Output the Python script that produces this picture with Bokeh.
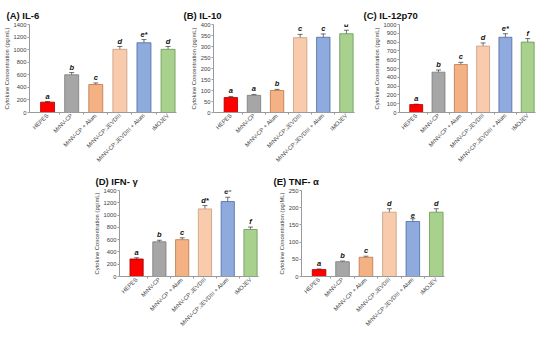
from math import pi
from bokeh.plotting import figure
from bokeh.models import Range1d, FixedTicker, Whisker, ColumnDataSource, Spacer
from bokeh.layouts import row, column
from bokeh.core.properties import value
from bokeh.embed import file_html
from bokeh.resources import INLINE

categories = ["HEPES", "MrNV-CP", "MrNV-CP + Alum", "MrNV-CP:JEVDIII",
              "MrNV-CP:JEVDIII + Alum", "IMOJEV"]
bar_colors = ["#ff0000", "#a6a6a6", "#f4b183", "#f8cbad", "#8faadc", "#a9d18e"]
bar_lines = ["#a00000", "#7a7a7a", "#b9774a", "#c99a7a", "#4a6aa8", "#6a9650"]

il6_vals = [165, 600, 445, 1005, 1110, 1005]
il6_errs = [10, 35, 25, 45, 50, 45]
il6_letters = ["a", "b", "c", "d", "e*", "d"]

il10_vals = [68, 78, 100, 340, 342, 358]
il10_errs = [5, 4, 5, 15, 15, 16]
il10_letters = ["a", "a", "b", "c", "c", "d"]

il12_vals = [90, 458, 545, 755, 855, 800]
il12_errs = [5, 25, 25, 35, 40, 40]
il12_letters = ["a", "b", "c", "d", "e*", "f"]

ifn_vals = [285, 565, 600, 1100, 1220, 765]
ifn_errs = [20, 25, 30, 55, 70, 40]
ifn_letters = ["a", "b", "c", "d*", "e*", "f"]

tnf_vals = [20, 43, 56, 187, 160, 187]
tnf_errs = [2, 2, 3, 10, 8, 10]
tnf_letters = ["a", "b", "c", "d", "e", "d"]

FONT = "Liberation Sans"


def panel(title, vals, errs, letters, ymax, step, ylabel, width, height,
          mbl, mbr, mbt, mbb, t_dx):
    xs = list(range(len(categories)))
    xr = Range1d(-0.75, 5.35)
    p = figure(width=width, height=height, x_range=xr,
               y_range=Range1d(0, ymax), output_backend="svg",
               toolbar_location=None, min_border_left=mbl,
               min_border_right=mbr, min_border_top=mbt, min_border_bottom=mbb)
    p.outline_line_color = None
    p.border_fill_color = None
    p.xgrid.visible = False
    p.ygrid.visible = False

    src = ColumnDataSource(dict(x=xs, top=vals, upper=[v + e for v, e in zip(vals, errs)],
                                lower=[v - e for v, e in zip(vals, errs)],
                                fill=bar_colors, line=bar_lines, letter=letters))
    p.vbar(x="x", top="top", width=0.58, bottom=0, fill_color="fill",
           line_color="line", line_width=0.8, source=src)
    w = Whisker(base="x", upper="upper", lower="lower", source=src,
                line_color="#333333", line_width=0.7)
    for h in (w.upper_head, w.lower_head):
        h.size = 5
        h.line_color = "#333333"
        h.line_width = 0.7
    p.add_layout(w)
    p.text(x="x", y="upper", text="letter", source=src, text_align="center",
           text_baseline="bottom", y_offset=-1, text_font=value(FONT),
           text_font_size="7.5px", text_font_style="bold italic",
           text_color="#111111")

    xa = p.xaxis[0]
    xa.ticker = FixedTicker(ticks=xs, minor_ticks=[0.5, 1.5, 2.5, 3.5, 4.5])
    xa.major_label_overrides = {i: c for i, c in enumerate(categories)}
    xa.major_label_orientation = pi / 4
    xa.major_tick_line_color = None
    xa.major_tick_out = 0
    xa.major_tick_in = 0
    xa.minor_tick_out = 2
    xa.minor_tick_in = 0
    xa.minor_tick_line_color = "#9a9a9a"
    xa.axis_line_color = "#9a9a9a"
    xa.major_label_standoff = 0

    ya = p.yaxis[0]
    ya.ticker = FixedTicker(ticks=list(range(0, ymax + 1, step)))
    ya.minor_tick_line_color = None
    ya.major_tick_out = 2
    ya.major_tick_in = 0
    ya.major_tick_line_color = "#9a9a9a"
    ya.axis_line_color = "#9a9a9a"
    ya.major_label_standoff = 1
    ya.axis_label = ylabel
    ya.axis_label_standoff = 1
    ya.axis_label_text_font = FONT
    ya.axis_label_text_font_size = "5.8px"
    ya.axis_label_text_font_style = "normal"
    ya.axis_label_text_color = "#404040"

    for ax in (xa, ya):
        ax.major_label_text_font = FONT
        ax.major_label_text_font_size = "5.8px"
        ax.major_label_text_color = "#404040"

    p.title.text = title
    p.title.text_font = FONT
    p.title.text_font_size = "9.5px"
    p.title.text_font_style = "bold"
    p.title.text_color = "#111111"
    p.title.align = "left"
    p.title.offset = t_dx
    p.title.standoff = 8
    return p


YL = "Cytokine Concentration (pg/mL)"
pA = panel("(A) IL-6", il6_vals, il6_errs, il6_letters, 1400, 200, YL,
           180, 177, 28, 4, 24, 65, -23)
pB = panel("(B) IL-10", il10_vals, il10_errs, il10_letters, 400, 50, YL,
           180, 177, 33, 6, 24, 65, -30)
pC = panel("(C) IL-12p70", il12_vals, il12_errs, il12_letters, 1000, 100, YL,
           190, 177, 39, 15, 24, 65, -36)
pD = panel("(D) IFN- \u03b3", ifn_vals, ifn_errs, ifn_letters, 1400, 200, YL,
           180, 175, 25, 12, 24, 65, -24)
pE = panel("(E) TNF- \u03b1", tnf_vals, tnf_errs, tnf_letters, 250, 50,
           "Cytokine Concentration (pg/ML)", 190, 175, 31, 16, 24, 65, -28)

top_row = row(pA, pB, pC)
bottom_row = row(Spacer(width=90, height=175), pD, pE,
                 styles={"position": "relative", "top": "-11px"})
layout = column(top_row, bottom_row, styles={"margin-bottom": "-11px"})

open("out.html", "w").write(file_html(layout, INLINE))
